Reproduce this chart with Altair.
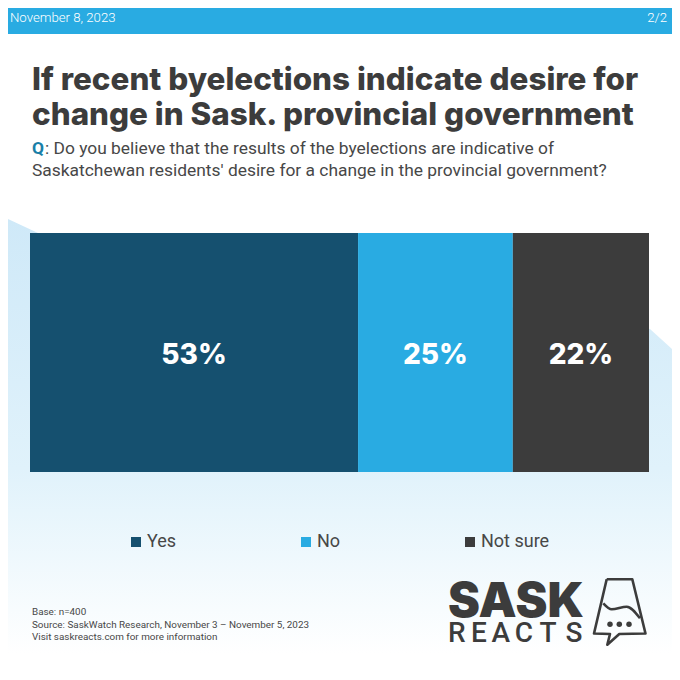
import altair as alt
import pandas as pd

# Chart values
categories = ["Yes", "No", "Not sure"]
values = [53, 25, 22]
colors = ["#15506f", "#29abe2", "#3c3c3c"]

date_text = "November 8, 2023"
page_text = "2/2"
title_lines = ["If recent byelections indicate desire for",
               "change in Sask. provincial government"]
question_lines = [": Do you believe that the results of the byelections are indicative of",
                  "Saskatchewan residents' desire for a change in the provincial government?"]
footer_lines = ["Base: n=400",
                "Source: SaskWatch Research, November 3 \u2013 November 5, 2023",
                "Visit saskreacts.com for more information"]

# Decoration (logo and backdrop outline, in page units)
shape_x = [8, 38, 650, 672]
shape_y = [219, 233, 329, 349]
icon_x = [606.7, 632.3, 645.5, 619.3, 607.3, 610, 594, 606.7]
icon_y = [579.3, 579.3, 633.5, 634, 644.7, 634, 633.5, 579.3]
wave_x = [603.3, 611.7, 626.7, 640]
wave_y = [603.3, 609.3, 606.7, 618.3]
dot_x = [610, 619.3, 629]
dot_y = [624.3, 624.3, 624.3]
reacts_letters = list("REACTS")
reacts_x = [456.7, 479, 500.7, 524, 548, 574]

M = 8
W = 664
BODY = "Roboto"
HEAD = "Inter"
DARK = "#3c3c3c"
SOFT = "#474747"

starts, ends, c = [], [], 0
for v in values:
    starts.append(c)
    c += v
    ends.append(c)
bars = pd.DataFrame({"cat": categories, "value": values, "start": starts, "end": ends,
                     "mid": [(a + b) / 2 for a, b in zip(starts, ends)],
                     "label": [f"{v}%" for v in values]})

# percent scale so that 0 lands on page x=30 and 100 on page x=649
ppp = (649 - 30) / 100
pct_scale = alt.Scale(domain=[(M - 30) / ppp, (M + W - 30) / ppp], nice=False, zero=False)
page_x = alt.Scale(domain=[M, M + W], nice=False, zero=False)
page_y = alt.Scale(domain=[M + W, M], nice=False, zero=False)


def txt(s, px, py, size, color=SOFT, font=BODY, weight=400, align="left"):
    return alt.Chart(pd.DataFrame({"t": [s]})).mark_text(
        font=font, fontSize=size, fontWeight=weight, color=color, align=align, baseline="alphabetic"
    ).encode(x=alt.value(px - M), y=alt.value(py - M), text="t:N")


bg_df = pd.DataFrame({"x": shape_x, "y": shape_y})
backdrop = alt.Chart(bg_df).mark_area(
    color=alt.Gradient(gradient="linear", x1=0, y1=0, x2=0, y2=1, stops=[
        alt.GradientStop(offset=0, color="#cfe9f8"),
        alt.GradientStop(offset=0.55, color="#e0f2fb"),
        alt.GradientStop(offset=0.96, color="#ffffff"),
        alt.GradientStop(offset=1, color="#ffffff"),
    ])
).encode(
    x=alt.X("x:Q", scale=page_x, axis=None),
    y=alt.Y("y:Q", scale=page_y, axis=None),
    y2=alt.Y2(datum=M + W),
)

header = alt.Chart(pd.DataFrame({"a": [1]})).mark_rect(color="#29abe2").encode(
    x=alt.X(datum=M, scale=page_x, axis=None), x2=alt.X2(datum=M + W),
    y=alt.Y(datum=M, scale=page_y, axis=None), y2=alt.Y2(datum=34))

bar_layer = alt.Chart(bars).mark_rect().encode(
    x=alt.X("start:Q", scale=pct_scale, axis=None),
    x2="end:Q",
    y=alt.Y(datum=233, scale=page_y, axis=None),
    y2=alt.Y2(datum=472),
    color=alt.Color("cat:N", scale=alt.Scale(domain=categories, range=colors), legend=alt.Legend(
        orient="none", legendX=127 - M, legendY=533 - M, direction="horizontal", columns=3,
        columnPadding=120, title=None, symbolType="square", symbolSize=100, symbolStrokeWidth=0,
        labelFont=BODY, labelFontSize=18, labelColor=SOFT, labelOffset=2, padding=0)),
)
bar_labels = alt.Chart(bars).mark_text(
    font=HEAD, fontSize=28, fontWeight=800, color="white", baseline="middle"
).encode(
    x=alt.X("mid:Q", scale=pct_scale, axis=None),
    y=alt.value(356 - M),
    text="label:N",
)

logo_line = alt.Chart(pd.DataFrame({"x": icon_x, "y": icon_y, "o": range(len(icon_x))})).mark_line(
    color=DARK, strokeWidth=2.6, strokeJoin="round"
).encode(x=alt.X("x:Q", scale=page_x, axis=None), y=alt.Y("y:Q", scale=page_y, axis=None), order="o:Q")
wave = alt.Chart(pd.DataFrame({"x": wave_x, "y": wave_y})).mark_line(
    color=DARK, strokeWidth=2.6, interpolate="monotone"
).encode(x=alt.X("x:Q", scale=page_x, axis=None), y=alt.Y("y:Q", scale=page_y, axis=None))
dots = alt.Chart(pd.DataFrame({"x": dot_x, "y": dot_y})).mark_point(
    color=DARK, filled=True, opacity=1, size=30
).encode(x=alt.X("x:Q", scale=page_x, axis=None), y=alt.Y("y:Q", scale=page_y, axis=None))
reacts = alt.Chart(pd.DataFrame({"t": reacts_letters, "x": reacts_x})).mark_text(
    font=BODY, fontSize=28, fontWeight=500, color=DARK, baseline="alphabetic"
).encode(x=alt.X("x:Q", scale=page_x, axis=None), y=alt.value(642 - M), text="t:N")

layers = [
    backdrop, header, bar_layer, bar_labels,
    txt(date_text, 10, 22, 13.2, "white", weight=300),
    txt(page_text, 667, 22, 13.2, "white", align="right", weight=300),
    txt(title_lines[0], 32, 90, 31.4, color=DARK, font=HEAD, weight=800),
    txt(title_lines[1], 32, 125, 31.4, color=DARK, font=HEAD, weight=800),
    txt("Q", 32, 153.5, 17.4, "#1a7fa8", weight=700),
    txt(question_lines[0], 45, 153.5, 17.4),
    txt(question_lines[1], 32, 175.5, 17.4),
    txt(footer_lines[0], 32, 615, 9.9),
    txt(footer_lines[1], 32, 627.5, 9.9),
    txt(footer_lines[2], 32, 640, 9.9),
    txt("SASK", 448, 617, 48, color=DARK, font=HEAD, weight=900),
    reacts, logo_line, wave, dots,
]

chart = alt.layer(*layers).resolve_scale(x="independent", y="independent", color="independent").properties(
    width=W, height=W, padding=0, autosize=alt.AutoSizeParams(type="none"), background="white"
).configure_view(stroke=None)

chart.save("out.html", embed_options={"renderer": "svg", "actions": False})
